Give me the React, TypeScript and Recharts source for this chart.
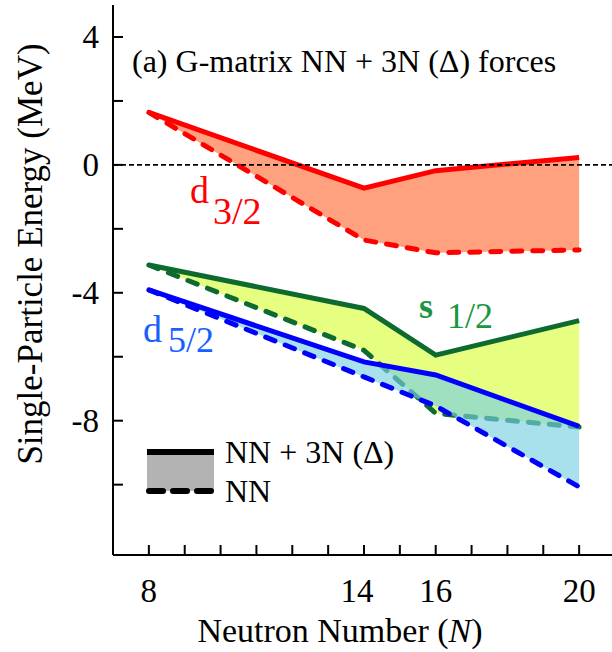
import { ComposedChart, Area, Line, XAxis, YAxis, ReferenceLine, Customized } from "recharts"

// neutron numbers and single-particle energies (MeV)
const neutrons = [8, 14, 16, 20]
const d32Full = [1.64, -0.73, -0.18, 0.23]
const d32NN = [1.64, -2.35, -2.75, -2.66]
const s12Full = [-3.13, -4.49, -5.95, -4.87]
const s12NN = [-3.13, -5.8, -7.77, -8.2]
const d52Full = [-3.91, -6.16, -6.57, -8.18]
const d52NN = [-3.91, -6.63, -7.54, -10.07]

const xTicks = [8, 9, 10, 11, 12, 13, 14, 15, 16, 17, 18, 19, 20]
const xLabels = [8, 14, 16, 20]
const yTicks = [-10, -8, -6, -4, -2, 0, 2, 4]
const yLabels = [-8, -4, 0, 4]

const FONT = "'Liberation Serif', 'Times New Roman', serif"
const RED = "#ff0000"
const GREEN = "#0d6b2f"
const BLUE = "#0000ff"

const data = neutrons.map((n, i) => ({
  n,
  d32Full: d32Full[i],
  d32NN: d32NN[i],
  d32Band: [d32NN[i], d32Full[i]],
  s12Full: s12Full[i],
  s12NN: s12NN[i],
  s12Band: [s12NN[i], s12Full[i]],
  d52Full: d52Full[i],
  d52NN: d52NN[i],
  d52Band: [d52NN[i], d52Full[i]],
}))

const BottomTick = (props: any) => {
  const { x, y, payload } = props
  const v = payload.value
  // the "14" label sits a little left of its tick in the original
  const shift = v === 14 ? -7 : 0
  return (
    <g>
      <line x1={x} y1={y} x2={x} y2={y - 10} stroke="#000" strokeWidth={2} />
      {xLabels.includes(v) && (
        <text x={x + shift} y={y + 47} textAnchor="middle" fontSize={33} fontFamily={FONT} fill="#000">
          {v}
        </text>
      )}
    </g>
  )
}

const TopTick = (props: any) => {
  const { x, y } = props
  return <line x1={x} y1={y} x2={x} y2={y + 10} stroke="#000" strokeWidth={2} />
}

const LeftTick = (props: any) => {
  const { x, y, payload } = props
  const v = payload.value
  return (
    <g>
      <line x1={x} y1={y} x2={x + 10} y2={y} stroke="#000" strokeWidth={2} />
      {yLabels.includes(v) && (
        <text x={x - 14} y={y + 11} textAnchor="end" fontSize={33} fontFamily={FONT} fill="#000">
          {v}
        </text>
      )}
    </g>
  )
}

const RightTick = (props: any) => {
  const { x, y } = props
  return <line x1={x} y1={y} x2={x - 10} y2={y} stroke="#000" strokeWidth={2} />
}

// text labels and the small legend box
const Overlay = () => (
  <g fontFamily={FONT}>
    <text x={132} y={72} fontSize={32} fill="#000">
      (a) G-matrix NN + 3N (Δ) forces
    </text>
    <text x={190} y={203} fontSize={38} fill={RED}>d</text>
    <text x={213} y={224} fontSize={38} fill={RED}>3/2</text>
    <text x={143} y={342} fontSize={38} fill="#1560ff">d</text>
    <text x={168} y={352} fontSize={36} fill="#1560ff">5/2</text>
    <text x={419} y={318} fontSize={36} fontWeight="bold" fill="#1a9641">s</text>
    <text x={447} y={328} fontSize={36} fill="#1a9641">1/2</text>

    <rect x={147} y={452} width={67} height={39} fill="#b3b3b3" />
    <line x1={147} y1={452} x2={214} y2={452} stroke="#000" strokeWidth={6} />
    <line x1={149} y1={491} x2={214} y2={491} stroke="#000" strokeWidth={6} strokeDasharray="14 10" strokeLinecap="round" />
    <text x={225} y={463} fontSize={32} fill="#000">NN + 3N (Δ)</text>
    <text x={225} y={502} fontSize={32} fill="#000">NN</text>

    <text x={340} y={642} textAnchor="middle" fontSize={34} fill="#000">
      Neutron Number (<tspan fontStyle="italic">N</tspan>)
    </text>
    <text x={42} y={254} textAnchor="middle" fontSize={35} fill="#000" transform="rotate(-90 42 254)">
      Single-Particle Energy (MeV)
    </text>
  </g>
)

export default function App() {
  return (
    <div style={{ position: "absolute", left: 0, top: 0, width: 612, height: 652, overflow: "hidden", background: "#fff" }}>
      <ComposedChart width={620} height={652} data={data} margin={{ top: 5, right: 5, bottom: 0, left: 0 }}>
        <XAxis
          dataKey="n"
          type="number"
          domain={[7, 21]}
          ticks={xTicks}
          interval={0}
          height={97}
          tickSize={0}
          tickMargin={0}
          tickLine={false}
          axisLine={{ stroke: "#000", strokeWidth: 2 }}
          tick={<BottomTick />}
        />
        <XAxis
          xAxisId="top"
          orientation="top"
          dataKey="n"
          type="number"
          domain={[7, 21]}
          ticks={xTicks}
          interval={0}
          height={0}
          tickSize={0}
          tickMargin={0}
          tickLine={false}
          axisLine={{ stroke: "#000", strokeWidth: 2 }}
          tick={<TopTick />}
        />
        <YAxis
          type="number"
          domain={[-12.2, 5]}
          ticks={yTicks}
          interval={0}
          width={113}
          tickSize={0}
          tickMargin={0}
          tickLine={false}
          axisLine={{ stroke: "#000", strokeWidth: 2 }}
          tick={<LeftTick />}
        />
        <YAxis
          yAxisId="right"
          orientation="right"
          type="number"
          domain={[-12.2, 5]}
          ticks={yTicks}
          interval={0}
          width={0}
          tickSize={0}
          tickMargin={0}
          tickLine={false}
          axisLine={{ stroke: "#000", strokeWidth: 2 }}
          tick={<RightTick />}
        />
        <ReferenceLine y={0} stroke="#000" strokeWidth={1.6} strokeDasharray="5 3" />

        <Area dataKey="d32Band" type="linear" stroke="none" fill="#ffa07e" fillOpacity={1} isAnimationActive={false} zIndex={101} />
        <Line dataKey="d32NN" type="linear" stroke={RED} strokeWidth={5} strokeDasharray="10 11" strokeLinecap="round" dot={false} isAnimationActive={false} zIndex={102} />
        <Line dataKey="d32Full" type="linear" stroke={RED} strokeWidth={5} dot={false} isAnimationActive={false} zIndex={102} />

        <Area dataKey="s12Band" type="linear" stroke="none" fill="#e6ff80" fillOpacity={1} isAnimationActive={false} zIndex={103} />
        <Line dataKey="s12NN" type="linear" stroke={GREEN} strokeWidth={5} strokeDasharray="10 11" strokeLinecap="round" dot={false} isAnimationActive={false} zIndex={104} />
        <Line dataKey="s12Full" type="linear" stroke={GREEN} strokeWidth={5} dot={false} isAnimationActive={false} zIndex={104} />

        <Area dataKey="d52Band" type="linear" stroke="none" fill="rgb(121,208,226)" fillOpacity={0.65} isAnimationActive={false} zIndex={105} />
        <Line dataKey="d52NN" type="linear" stroke={BLUE} strokeWidth={5} strokeDasharray="10 11" strokeLinecap="round" dot={false} isAnimationActive={false} zIndex={106} />
        <Line dataKey="d52Full" type="linear" stroke={BLUE} strokeWidth={5} dot={false} isAnimationActive={false} zIndex={106} />

        <Customized component={Overlay} />
      </ComposedChart>
    </div>
  )
}
